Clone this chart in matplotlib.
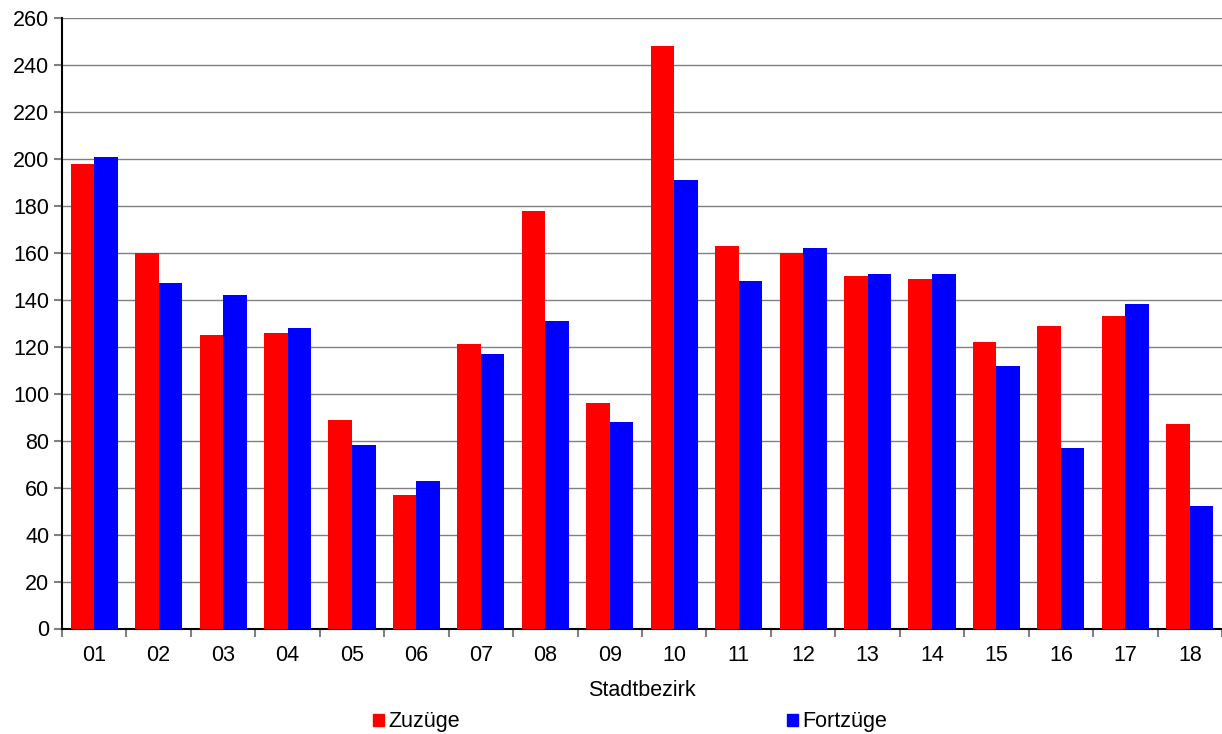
import numpy as np
import matplotlib.pyplot as plt
from matplotlib.patches import Patch

plt.rcParams['font.family'] = ['Liberation Sans', 'DejaVu Sans']

bezirke = ['01', '02', '03', '04', '05', '06', '07', '08', '09',
           '10', '11', '12', '13', '14', '15', '16', '17', '18']
zuzuege = [198, 160, 125, 126, 89, 57, 121, 178, 96,
           248, 163, 160, 150, 149, 122, 129, 133, 87]
fortzuege = [201, 147, 142, 128, 78, 63, 117, 131, 88,
             191, 148, 162, 151, 151, 112, 77, 138, 52]

fs = 15.5

fig = plt.figure(figsize=(12.22, 7.34), dpi=100)
ax = fig.add_axes([62/1222, 105.5/734, 1 - 62/1222, 610.5/734])

x = np.arange(len(bezirke))
w = 0.365
ax.bar(x - w/2, zuzuege, w, color='#ff0000', zorder=3)
ax.bar(x + w/2, fortzuege, w, color='#0000ff', zorder=3)

ax.set_xlim(-0.5, len(bezirke) - 0.5)
ax.set_ylim(0, 260)
ax.set_yticks(range(0, 261, 20))
ax.yaxis.grid(True, color='#808080', lw=1, zorder=0)

# category labels centred, ticks between the groups
ax.set_xticks(x)
ax.set_xticklabels(bezirke, fontsize=fs)
ax.set_xticks(np.arange(-0.5, len(bezirke)), minor=True)
ax.tick_params(axis='x', which='major', length=0, pad=12)
ax.tick_params(axis='x', which='minor', length=6, color='#808080', width=1.5)
ax.tick_params(axis='y', labelsize=fs, length=6, color='#808080', width=1.5, pad=3)

for s in ['top', 'right']:
    ax.spines[s].set_visible(False)
ax.spines['left'].set_linewidth(1.5)
ax.spines['bottom'].set_linewidth(1.5)

fig.text(642/1222, 1 - 690/734, 'Stadtbezirk', ha='center', va='center', fontsize=fs)

handles = [Patch(color='#ff0000', label='Zuzüge'), Patch(color='#0000ff', label='Fortzüge')]
fig.legend(handles=handles, loc='center left', bbox_to_anchor=(373/1222, 1 - 722/734),
           ncol=2, frameon=False, fontsize=fs, handlelength=0.5, handleheight=0.5,
           handletextpad=0.2, columnspacing=15.2, borderpad=0, borderaxespad=0)

fig.savefig('out.png', dpi=100)
